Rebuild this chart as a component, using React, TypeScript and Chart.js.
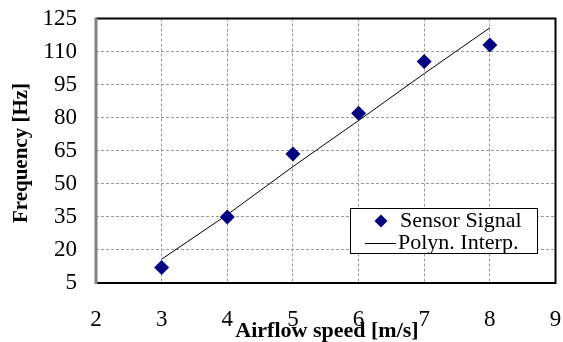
import React, { useEffect, useRef } from "react";
import { Chart, registerables } from "chart.js";

Chart.register(...registerables);

const speeds = [3, 4, 5, 6, 7, 8];
const sensorSignal = [12, 35, 63.5, 82, 105.5, 113];
const polynInterp = [15.8, 36, 57.8, 78.7, 100, 120.8];
const seriesLabels = ["Sensor Signal", "Polyn. Interp."];
const xTitle = "Airflow speed [m/s]";
const yTitle = "Frequency [Hz]";
const xMin = 2, xMax = 9, xStep = 1;
const yMin = 5, yMax = 125, yStep = 15;

const FONT = "'Liberation Serif', 'Times New Roman', serif";
const NAVY = "#000080";

const decorPlugin = {
  id: "decor",
  afterDraw(chart: any) {
    const { ctx, chartArea } = chart;
    const { left, right, top, bottom } = chartArea;
    ctx.save();
    // frame
    ctx.strokeStyle = "#000";
    ctx.lineWidth = 2;
    ctx.beginPath();
    ctx.moveTo(left, top);
    ctx.lineTo(right, top);
    ctx.lineTo(right, bottom);
    ctx.lineTo(left, bottom);
    ctx.stroke();
    ctx.strokeStyle = "#808080";
    ctx.lineWidth = 3;
    ctx.beginPath();
    ctx.moveTo(left, top - 1);
    ctx.lineTo(left, bottom + 1);
    ctx.stroke();

    // axis titles
    ctx.fillStyle = "#000";
    ctx.font = `bold 22px ${FONT}`;
    ctx.textAlign = "center";
    ctx.textBaseline = "alphabetic";
    ctx.fillText(xTitle, 327, 337);
    ctx.save();
    ctx.font = `bold 21px ${FONT}`;
    ctx.translate(22, 153);
    ctx.rotate(-Math.PI / 2);
    ctx.textBaseline = "middle";
    ctx.fillText(yTitle, 0, 0);
    ctx.restore();

    // legend
    const bx = 350, by = 208, bw = 187, bh = 45;
    ctx.fillStyle = "#fff";
    ctx.fillRect(bx, by, bw, bh);
    ctx.strokeStyle = "#000";
    ctx.lineWidth = 1;
    ctx.strokeRect(bx + 0.5, by + 0.5, bw, bh);
    const ds = chart.data.datasets;
    const r1 = 221, r2 = 243;
    const dx = 381, r = 6.5;
    ctx.fillStyle = NAVY;
    ctx.beginPath();
    ctx.moveTo(dx, r1 - r);
    ctx.lineTo(dx + r, r1);
    ctx.lineTo(dx, r1 + r);
    ctx.lineTo(dx - r, r1);
    ctx.closePath();
    ctx.fill();
    ctx.strokeStyle = "#000";
    ctx.lineWidth = 1;
    ctx.beginPath();
    ctx.moveTo(365, r2 + 0.5);
    ctx.lineTo(396, r2 + 0.5);
    ctx.stroke();
    ctx.fillStyle = "#000";
    ctx.font = `22px ${FONT}`;
    ctx.textAlign = "left";
    ctx.textBaseline = "middle";
    ctx.fillText(ds[0].label, 400, r1);
    ctx.fillText(ds[1].label, 398, r2);
    ctx.restore();
  },
};

export default function App() {
  const ref = useRef<HTMLCanvasElement>(null);
  useEffect(() => {
    const chart = new Chart(ref.current!, {
      type: "scatter",
      data: {
        datasets: [
          {
            label: seriesLabels[0],
            data: speeds.map((x, i) => ({ x, y: sensorSignal[i] })),
            pointStyle: "rectRot",
            pointRadius: 7.5,
            backgroundColor: NAVY,
            borderColor: NAVY,
            borderWidth: 0,
            showLine: false,
            order: 1,
          },
          {
            label: seriesLabels[1],
            data: speeds.map((x, i) => ({ x, y: polynInterp[i] })),
            showLine: true,
            borderColor: "#000",
            borderWidth: 1,
            pointRadius: 0,
            backgroundColor: "#000",
            order: 2,
          },
        ],
      },
      options: {
        animation: false,
        responsive: false,
        layout: { padding: { top: 18.5, right: 7, left: 0, bottom: 0 } },
        plugins: {
          legend: { display: false },
          tooltip: { enabled: false },
        },
        scales: {
          x: {
            type: "linear",
            min: xMin,
            max: xMax,
            ticks: {
              stepSize: xStep,
              padding: 23,
              color: "#000",
              font: { family: FONT, size: 23 },
            },
            grid: {
              color: "#9a9a9a",
              lineWidth: 1,
              drawTicks: false,
            },
            border: { display: false, dash: [3, 2] },
            afterFit: (s: any) => {
              s.height = 59;
              s.paddingLeft = 0;
              s.paddingRight = 0;
            },
          },
          y: {
            type: "linear",
            min: yMin,
            max: yMax,
            ticks: {
              stepSize: yStep,
              padding: 19,
              color: "#000",
              font: { family: FONT, size: 23 },
            },
            grid: {
              color: "#9a9a9a",
              lineWidth: 1,
              drawTicks: false,
            },
            border: { display: false, dash: [3, 2] },
            afterFit: (s: any) => {
              s.width = 96;
              s.paddingTop = 0;
              s.paddingBottom = 0;
            },
          },
        },
      },
      plugins: [decorPlugin],
    } as any);
    return () => chart.destroy();
  }, []);
  return (
    <div style={{ position: "absolute", left: 0, top: 0, width: 563, height: 342, background: "#fff" }}>
      <canvas ref={ref} width={563} height={342} style={{ display: "block" }} />
    </div>
  );
}
